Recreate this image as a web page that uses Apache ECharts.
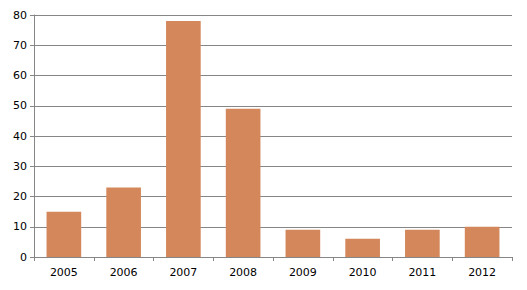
<!DOCTYPE html>
<html>
<head>
<meta charset="utf-8">
<script src="https://cdn.jsdelivr.net/npm/echarts@6/dist/echarts.min.js"></script>
<style>
  html, body { margin: 0; padding: 0; background: #fff; }
  #chart { width: 527px; height: 290px; }
</style>
</head>
<body>
<div id="chart"></div>
<script>
const years = ['2005', '2006', '2007', '2008', '2009', '2010', '2011', '2012']
const counts = [15, 23, 78, 49, 9, 6, 9, 10]

const chart = echarts.init(document.getElementById('chart'), null, { renderer: 'svg' })

const axisGray = '#868686'
const labelFont = { fontFamily: 'DejaVu Sans', fontSize: 11, color: '#000' }

chart.setOption({
  animation: false,
  backgroundColor: '#fff',
  grid: { left: 34, right: 15, top: 15, bottom: 33, containLabel: false },
  xAxis: {
    type: 'category',
    data: years,
    axisLine: { lineStyle: { color: axisGray } },
    axisTick: { show: true, length: 4, lineStyle: { color: axisGray } },
    axisLabel: { ...labelFont, margin: 10 }
  },
  yAxis: {
    type: 'value',
    min: 0,
    max: 80,
    interval: 10,
    axisLine: { show: true, lineStyle: { color: axisGray } },
    axisTick: { show: true, length: 4, lineStyle: { color: axisGray } },
    axisLabel: { ...labelFont, margin: 7 },
    splitLine: { lineStyle: { color: axisGray } }
  },
  series: [
    {
      type: 'bar',
      data: counts,
      barWidth: '58%',
      itemStyle: { color: '#D4875A' }
    }
  ]
})
</script>
</body>
</html>
